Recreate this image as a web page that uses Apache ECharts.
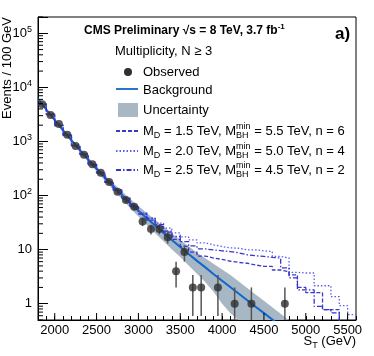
<!DOCTYPE html>
<html>
<head>
<meta charset="utf-8">
<script src="https://cdn.jsdelivr.net/npm/echarts@6/dist/echarts.min.js"></script>
<style>
  html, body { margin: 0; padding: 0; background: #fff; }
  #chart { width: 374px; height: 356px; }
</style>
</head>
<body>
<div id="chart"></div>
<script>
var FONT = '"Liberation Sans", Arial, Helvetica, sans-serif';

// observed data (bin centres, events / 100 GeV), empty bins left out
var obsX = [1850, 1950, 2050, 2150, 2250, 2350, 2450, 2550, 2650, 2750, 2850, 2950,
            3050, 3150, 3250, 3350, 3450, 3550, 3650, 3750, 3950, 4150, 4350, 4750];
var obsY = [4900, 3070, 2100, 1330, 820, 570, 380, 265, 178, 117, 83, 62,
            33, 24, 24, 17, 4, 9, 2, 2, 2, 1, 1, 1];
var obsErr = [70, 55.4, 45.8, 36.5, 28.6, 23.9, 19.5, 16.3, 13.3, 10.8, 9.1, 7.9,
              5.7, 4.9, 4.9, 4.1, 2, 3, 1.41, 1.41, 1.41, 1, 1, 1];

// background fit
var bkgX = [1800, 1900, 2000, 2100, 2200, 2300, 2400, 2500, 2600, 2700, 2800, 2900, 3000, 3100, 3200,
            3300, 3400, 3500, 3600, 3700, 3800, 3900, 4000, 4100, 4200, 4300, 4400, 4500, 4600, 4700];
var bkgY = [6170, 3890, 2480, 1600, 1050, 690, 462, 313, 214, 148, 104, 73, 52.5, 38, 27.9,
            20.4, 15.1, 11.2, 8.3, 6.2, 4.7, 3.5, 2.66, 2.02, 1.53, 1.16, 0.88, 0.67, 0.51, 0.39];

// uncertainty band
var bandX = [1800, 1900, 2000, 2100, 2200, 2300, 2400, 2500, 2600, 2700, 2800, 2900, 3000, 3100, 3200, 3300,
             3400, 3500, 3600, 3700, 3800, 3900, 4000, 4100, 4200, 4300, 4400, 4500, 4600, 4700, 4800];
var bandLow = [5920, 3700, 2360, 1500, 980, 635, 420, 282, 188, 127, 87, 59, 41, 28.5, 20.1, 14.3,
               10.1, 7.3, 5.1, 3.6, 2.5, 1.65, 1.0, 0.67, 0.49, 0.37, 0.28, 0.21, 0.16, 0.12, 0.09];
var bandHigh = [6420, 4080, 2600, 1700, 1120, 745, 504, 344, 240, 169, 121, 87, 64, 47.5, 35.7, 26.5,
                20.1, 15.1, 11.5, 8.8, 6.9, 5.4, 4.3, 3.4, 2.57, 1.95, 1.48, 1.13, 0.86, 0.65, 0.49];

// signal + background histograms, low bin edges 1800 ... 5500 (100 GeV bins)
var binEdges = [1800, 1900, 2000, 2100, 2200, 2300, 2400, 2500, 2600, 2700, 2800, 2900, 3000,
                3100, 3200, 3300, 3400, 3500, 3600, 3700, 3800, 3900, 4000, 4100, 4200, 4300,
                4400, 4500, 4600, 4700, 4800, 4900, 5000, 5100, 5200, 5300, 5400, 5500];
var lastEdge = 5600;
var sig15 = [4900, 3200, 1950, 1320, 840, 580, 370, 262, 175, 127, 86, 63, 46,
             35, 27, 21, 15.5, 11.5, 9.0, 7.6, 7.0, 6.6, 6.1, 5.8, 5.6, 5.2,
             4.9, 4.9, 4.2, 3.9, 3.4, 2.0, 1.6, 1.6, 0.78, 0.78, 0.45, 0.3];
var sig20 = [5000, 3050, 2020, 1280, 870, 560, 390, 255, 182, 122, 90, 64, 48,
             38, 31, 25, 20.4, 17.2, 15.1, 13.3, 12.3, 11.4, 10.8, 10.6, 9.9, 9.9,
             9.5, 9.2, 7.5, 7.0, 3.8, 3.7, 3.7, 2.15, 2.15, 1.35, 0.92, 0.63];
var sig25 = [4850, 3150, 1980, 1310, 830, 575, 375, 262, 176, 126, 88, 61, 46,
             38, 29, 22, 17.5, 14.1, 11.7, 10.3, 9.9, 9.5, 9.2, 8.7, 8.0, 7.7,
             7.5, 7.2, 7.0, 4.6, 3.0, 1.8, 1.8, 0.89, 0.78, 0.68, 0.4, 0.3];

var xMajorTicks = [2000, 2500, 3000, 3500, 4000, 4500, 5000, 5500];

var bkgColor = '#1066cc';
var bandColor = '#a8b7c4';
var sigColors = ['#3a3ac8', '#5c5cf2', '#3434cc'];
var sigDash = [[4, 2], [1.5, 2], [5, 2, 1.5, 2]];

// y minor ticks 2..9 x 10^k inside the axis range
var yMinorTicks = [];
for (var k = -1; k <= 5; k++) {
  for (var m = 2; m <= 9; m++) {
    var t = m * Math.pow(10, k);
    if (t >= 0.5 && t <= 2e5) yMinorTicks.push(t);
  }
}

function stepData(values) {
  var d = binEdges.map(function (e, i) { return [e, values[i]]; });
  d.push([lastEdge, values[values.length - 1]]);
  return d;
}

var measureCtx = document.createElement('canvas').getContext('2d');
function textWidth(str, size, weight) {
  measureCtx.font = (weight || 'normal') + ' ' + size + 'px ' + FONT;
  return measureCtx.measureText(str).width;
}

// text with sub/superscripts laid out as separate pieces
function mathText(x, y, parts, size, weight, align) {
  weight = weight || 'normal';
  var small = Math.round(size * 0.7);
  var kids = [];
  var cx = 0;
  function put(str, dx, dy, fs) {
    kids.push({
      type: 'text', x: dx, y: dy,
      style: { text: str, fontSize: fs, fontFamily: FONT, fontWeight: weight, fill: '#000',
               align: 'left', verticalAlign: 'middle' }
    });
    return textWidth(str, fs, weight);
  }
  parts.forEach(function (p) {
    if (typeof p === 'string') {
      cx += put(p, cx, 0, size);
    } else {
      var w = 0;
      if (p.sup) w = Math.max(w, put(p.sup, cx, -size * 0.38, small));
      if (p.sub) w = Math.max(w, put(p.sub, cx, size * 0.35, small));
      cx += w;
    }
  });
  if (align === 'right') kids.forEach(function (c) { c.x -= cx; });
  return { type: 'group', x: x, y: y, silent: true, children: kids };
}

function legendLine(y, color, dash) {
  return {
    type: 'line', silent: true,
    shape: { x1: 116, y1: y, x2: 138, y2: y },
    style: { stroke: color, lineWidth: 1.8, lineDash: dash }
  };
}

var chart = echarts.init(document.getElementById('chart'), null, { renderer: 'canvas' });

var option = {
  animation: false,
  backgroundColor: '#fff',
  grid: {
    left: 38, right: 18, top: 17, bottom: 36,
    show: true, borderColor: '#000', borderWidth: 1,
    containLabel: false, outerBoundsMode: 'none'
  },
  xAxis: {
    type: 'value', min: 1800, max: 5600, interval: 100,
    axisLine: { lineStyle: { color: '#000', width: 1 } },
    axisTick: { inside: true, length: 4, lineStyle: { color: '#000' } },
    splitLine: { show: false },
    axisLabel: {
      margin: 4, color: '#000', fontSize: 13, fontFamily: FONT,
      formatter: function (v) { return v % 500 === 0 ? String(v) : ''; }
    }
  },
  yAxis: {
    type: 'log', logBase: 10, min: 0.5, max: 2e5,
    axisLine: { show: true, lineStyle: { color: '#000', width: 1 } },
    axisTick: { inside: true, length: 10, lineStyle: { color: '#000' } },
    splitLine: { show: false },
    axisLabel: {
      margin: 6,
      formatter: function (v) {
        var l = Math.log10(v), k = Math.round(l);
        if (Math.abs(l - k) > 1e-6) return '';
        if (k === 0) return '{b|1}';
        if (k === 1) return '{b|10}';
        return '{b|10}{e|' + k + '}';
      },
      rich: {
        b: { fontSize: 13, fontFamily: FONT, color: '#000', lineHeight: 17 },
        e: { fontSize: 9, fontFamily: FONT, color: '#000', lineHeight: 9, verticalAlign: 'top' }
      }
    }
  },
  series: [
    {
      name: 'Uncertainty', type: 'custom', clip: true, silent: true, z: 1,
      data: bandX.map(function (x, i) { return [x, bandLow[i], bandHigh[i]]; }),
      encode: { x: 0, y: [1, 2] },
      renderItem: function (params, api) {
        if (params.dataIndex !== 0) return null;
        var pts = [];
        for (var i = 0; i < bandX.length; i++) pts.push(api.coord([bandX[i], bandLow[i]]));
        for (var j = bandX.length - 1; j >= 0; j--) pts.push(api.coord([bandX[j], bandHigh[j]]));
        return { type: 'polygon', shape: { points: pts }, style: { fill: bandColor } };
      }
    },
    {
      name: 'Background', type: 'line', z: 2, showSymbol: false, silent: true,
      data: bkgX.map(function (x, i) { return [x, bkgY[i]]; }),
      lineStyle: { color: bkgColor, width: 2 }
    },
    {
      name: 'MD 1.5', type: 'line', step: 'end', z: 3, showSymbol: false, silent: true,
      data: stepData(sig15),
      lineStyle: { color: sigColors[0], width: 1.3, type: sigDash[0] }
    },
    {
      name: 'MD 2.0', type: 'line', step: 'end', z: 3, showSymbol: false, silent: true,
      data: stepData(sig20),
      lineStyle: { color: sigColors[1], width: 1.3, type: sigDash[1] }
    },
    {
      name: 'MD 2.5', type: 'line', step: 'end', z: 3, showSymbol: false, silent: true,
      data: stepData(sig25),
      lineStyle: { color: sigColors[2], width: 1.3, type: sigDash[2] }
    },
    {
      name: 'errors', type: 'custom', clip: true, silent: true, z: 4,
      data: obsX.map(function (x, i) { return [x, obsY[i], obsErr[i]]; }),
      renderItem: function (params, api) {
        var x = api.value(0), y = api.value(1), e = api.value(2);
        var top = api.coord([x, y + e]);
        var bot = api.coord([x, Math.max(y - e, 0.1)]);
        return {
          type: 'line',
          shape: { x1: top[0], y1: top[1], x2: bot[0], y2: bot[1] },
          style: { stroke: '#555', lineWidth: 1.5 }
        };
      }
    },
    {
      name: 'Observed', type: 'scatter', z: 5, silent: true,
      symbol: 'circle', symbolSize: 8,
      data: obsX.map(function (x, i) { return [x, obsY[i]]; }),
      itemStyle: { color: '#303030' }
    },
    {
      name: 'xMajor', type: 'custom', silent: true, z: 6,
      data: xMajorTicks.map(function (v) { return [v, 0.5]; }),
      renderItem: function (params, api) {
        var p = api.coord([api.value(0), 0.5]);
        return { type: 'line', shape: { x1: p[0], y1: p[1], x2: p[0], y2: p[1] - 7 },
                 style: { stroke: '#000', lineWidth: 1 } };
      }
    },
    {
      name: 'yMinor', type: 'custom', silent: true, z: 6,
      data: yMinorTicks.map(function (v) { return [1800, v]; }),
      renderItem: function (params, api) {
        var p = api.coord([1800, api.value(1)]);
        return { type: 'line', shape: { x1: p[0], y1: p[1], x2: p[0] + 5, y2: p[1] },
                 style: { stroke: '#000', lineWidth: 1 } };
      }
    }
  ],
  graphic: [
    mathText(84, 31, ['CMS Preliminary \u221As = 8 TeV, 3.7 fb', { sup: '-1' }], 12, 'bold'),
    { type: 'text', x: 335, y: 34, silent: true,
      style: { text: 'a)', fontSize: 17, fontWeight: 'bold', fontFamily: FONT, fill: '#000', verticalAlign: 'middle' } },
    { type: 'text', x: 115, y: 51, silent: true,
      style: { text: 'Multiplicity, N \u2265 3', fontSize: 13, fontFamily: FONT, fill: '#000', verticalAlign: 'middle' } },

    { type: 'circle', silent: true, shape: { cx: 128, cy: 72, r: 4 }, style: { fill: '#303030' } },
    { type: 'text', x: 143, y: 72, silent: true,
      style: { text: 'Observed', fontSize: 13, fontFamily: FONT, fill: '#000', verticalAlign: 'middle' } },
    legendLine(89, bkgColor, null),
    { type: 'text', x: 143, y: 90, silent: true,
      style: { text: 'Background', fontSize: 13, fontFamily: FONT, fill: '#000', verticalAlign: 'middle' } },
    { type: 'rect', silent: true, shape: { x: 118, y: 103, width: 20, height: 14 }, style: { fill: bandColor } },
    { type: 'text', x: 143, y: 110, silent: true,
      style: { text: 'Uncertainty', fontSize: 13, fontFamily: FONT, fill: '#000', verticalAlign: 'middle' } },

    legendLine(131, sigColors[0], sigDash[0]),
    mathText(143, 131, ['M', { sub: 'D' }, ' = 1.5 TeV, M', { sup: 'min', sub: 'BH' }, ' = 5.5 TeV, n = 6'], 13),
    legendLine(151, sigColors[1], sigDash[1]),
    mathText(143, 151, ['M', { sub: 'D' }, ' = 2.0 TeV, M', { sup: 'min', sub: 'BH' }, ' = 5.0 TeV, n = 4'], 13),
    legendLine(170, sigColors[2], sigDash[2]),
    mathText(143, 170, ['M', { sub: 'D' }, ' = 2.5 TeV, M', { sup: 'min', sub: 'BH' }, ' = 4.5 TeV, n = 2'], 13),

    { type: 'text', x: 7, y: 17, rotation: Math.PI / 2, silent: true,
      style: { text: 'Events / 100 GeV', fontSize: 13, fontFamily: FONT, fill: '#000',
               align: 'right', verticalAlign: 'middle' } },
    mathText(356, 341, ['S', { sub: 'T' }, ' (GeV)'], 13, 'normal', 'right')
  ]
};

chart.setOption(option);
</script>
</body>
</html>
